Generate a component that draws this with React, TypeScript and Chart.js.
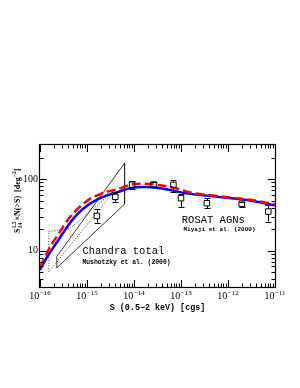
import React, { useEffect, useRef } from 'react';
import { Chart, registerables } from 'chart.js';

Chart.register(...registerables);

// ---- data ----
const curveFlux = [1e-16, 1.51e-16, 2.47e-16, 4.03e-16, 6.56e-16, 1.07e-15, 1.75e-15, 2.84e-15, 4.27e-15, 8.34e-15, 1.6e-14, 3.61e-14, 8.18e-14, 1.57e-13, 6.79e-13, 2.94e-12, 1e-11];
const modelBlue = [5.4, 8.7, 14.1, 22.9, 33.4, 43.7, 53, 60.3, 65, 74.8, 77.3, 74.8, 67.1, 62.2, 56, 50.2, 43];
const modelRed = [5.85, 10.2, 17.1, 27.7, 39.2, 51.3, 60.3, 67.5, 71.5, 83.2, 86.5, 82, 74, 65, 57.5, 51.3, 44.5];

const pointFlux = [1.62e-15, 4.0e-15, 9.1e-15, 2.6e-14, 6.9e-14, 1.0e-13, 3.55e-13, 1.96e-12, 7.2e-12];
const pointValue = [30.6, 56.5, 83.2, 84, 83, 54.2, 46.1, 45.1, 35.2];
const pointErrLow = [24.6, 47.4, 73, 77.3, 67, 40.5, 39.3, 41.4, 25.5];
const pointErrHigh = [38.4, 65.4, 93.5, 92.5, 96, 62, 54.2, 48.6, 43.6];

const bowtieFlux = [2.28e-16, 6.3e-15, 6.3e-15, 2.28e-16, 2.28e-16];
const bowtieValue = [8.3, 167, 44.7, 5.75, 8.3];
const fluctFlux = [1.54e-16, 4.45e-16, 4.0e-15, 1.54e-16, 1.54e-16];
const fluctValue = [18.5, 20.7, 70.8, 5.06, 18.5];

const xRange = [1e-16, 1e-11];
const yRange = [3.1, 300];
const xTickValues = [1e-16, 1e-15, 1e-14, 1e-13, 1e-12, 1e-11];
const xTickBase = '10';
const xTickExponents = ['\u221216', '\u221215', '\u221214', '\u221213', '\u221212', '\u221211'];
const yTickValues = [10, 100];
const yTickLabels = ['10', '100'];

const toXY = (xs: number[], ys: number[]) => xs.map((x, i) => ({ x, y: ys[i] }));

const overlayPlugin = {
  id: 'overlay',
  afterDatasetsDraw(chart: any) {
    const { ctx, chartArea: a, scales } = chart;
    const xs = scales.x;
    const ys = scales.y;
    ctx.save();
    ctx.strokeStyle = '#000';
    ctx.fillStyle = '#000';

    // error bars
    ctx.lineWidth = 1;
    pointFlux.forEach((f: number, i: number) => {
      const px = Math.round(xs.getPixelForValue(f)) + 0.5;
      const py = ys.getPixelForValue(pointValue[i]);
      const hi = ys.getPixelForValue(pointErrHigh[i]);
      const lo = ys.getPixelForValue(pointErrLow[i]);
      const h = 2.8;
      ctx.beginPath();
      if (hi < py - h) { ctx.moveTo(px, hi); ctx.lineTo(px, py - h); }
      if (lo > py + h) { ctx.moveTo(px, py + h); ctx.lineTo(px, lo); }
      ctx.moveTo(px - 3, Math.round(hi) + 0.5); ctx.lineTo(px + 3, Math.round(hi) + 0.5);
      ctx.moveTo(px - 3, Math.round(lo) + 0.5); ctx.lineTo(px + 3, Math.round(lo) + 0.5);
      ctx.stroke();
    });

    // frame
    ctx.lineWidth = 1.2;
    ctx.strokeRect(a.left - 0.5, a.top - 0.5, a.right - a.left + 1, a.bottom - a.top + 1);

    // inward ticks
    ctx.lineWidth = 1;
    ctx.beginPath();
    const xMinE = Math.round(Math.log10(xRange[0]));
    const xMaxE = Math.round(Math.log10(xRange[1]));
    for (let e = xMinE; e <= xMaxE; e++) {
      for (let m = 1; m <= 9; m++) {
        const v = m * Math.pow(10, e);
        if (v > xRange[1] * 1.0001) break;
        const px = Math.round(xs.getPixelForValue(v)) + 0.5;
        const len = m === 1 ? 7 : 3.5;
        ctx.moveTo(px, a.bottom); ctx.lineTo(px, a.bottom - len);
        ctx.moveTo(px, a.top); ctx.lineTo(px, a.top + len);
      }
    }
    for (let e = 0; e <= 2; e++) {
      for (let m = 1; m <= 9; m++) {
        const v = m * Math.pow(10, e);
        if (v < yRange[0] || v >= yRange[1]) continue;
        const py = Math.round(ys.getPixelForValue(v)) + 0.5;
        const len = m === 1 ? 7 : 3.5;
        ctx.moveTo(a.left, py); ctx.lineTo(a.left + len, py);
        ctx.moveTo(a.right, py); ctx.lineTo(a.right - len, py);
      }
    }
    ctx.stroke();

    // x tick labels with raised exponents
    ctx.textBaseline = 'alphabetic';
    ctx.textAlign = 'left';
    const baseFont = '10px "Liberation Serif"';
    const expFont = '7px "Liberation Serif"';
    xTickValues.forEach((v: number, i: number) => {
      const px = xs.getPixelForValue(v);
      ctx.font = baseFont;
      const wb = ctx.measureText(xTickBase).width;
      ctx.font = expFont;
      const we = ctx.measureText(xTickExponents[i]).width;
      const start = px - (wb + we + 0.5) / 2;
      ctx.font = baseFont;
      ctx.fillText(xTickBase, start, a.bottom + 11.5);
      ctx.font = expFont;
      ctx.fillText(xTickExponents[i], start + wb + 0.5, a.bottom + 7.5);
    });

    // annotations
    ctx.textBaseline = 'middle';
    ctx.textAlign = 'left';
    ctx.font = '10.5px "Liberation Mono"';
    ctx.fillText('Chandra total', xs.getPixelForValue(7.98e-16), ys.getPixelForValue(9.7));
    ctx.fillText('ROSAT AGNs', xs.getPixelForValue(1.04e-13), ys.getPixelForValue(26.7));
    ctx.font = 'bold 6.4px "Liberation Mono"';
    ctx.fillText('Mushotzky et al. (2000)', xs.getPixelForValue(7.98e-16), ys.getPixelForValue(6.9));
    ctx.font = 'bold 6px "Liberation Mono"';
    ctx.fillText('Miyaji et al. (2000)', xs.getPixelForValue(1.13e-13), ys.getPixelForValue(19.7));

    // x title
    ctx.textAlign = 'center';
    ctx.font = 'bold 8.4px "Liberation Mono"';
    ctx.fillText('S (0.5\u22122 keV) [cgs]', (a.left + a.right) / 2, a.bottom + 20.5);

    // y title (rotated)
    ctx.translate(a.left - 20.5, a.bottom - 54);
    ctx.rotate(-Math.PI / 2);
    ctx.textAlign = 'left';
    ctx.textBaseline = 'alphabetic';
    const main = 'bold 8px "Liberation Serif"';
    const small = 'bold 5.5px "Liberation Serif"';
    let cx = 0;
    ctx.font = main;
    ctx.fillText('S', cx, 0);
    cx += ctx.measureText('S').width + 0.3;
    ctx.font = small;
    ctx.fillText('1.5', cx, -3.8);
    ctx.fillText('14', cx, 2);
    cx += Math.max(ctx.measureText('1.5').width, ctx.measureText('14').width) + 0.8;
    ctx.font = main;
    const mid = '\u00D7N(>S)  [deg';
    ctx.fillText(mid, cx, 0);
    cx += ctx.measureText(mid).width;
    ctx.font = small;
    ctx.fillText('\u22122', cx, -3.8);
    cx += ctx.measureText('\u22122').width;
    ctx.font = main;
    ctx.fillText(']', cx, 0);

    ctx.restore();
  },
};

export default function App() {
  const canvasRef = useRef<HTMLCanvasElement | null>(null);

  useEffect(() => {
    const canvas = canvasRef.current;
    if (!canvas) return;
    const chart = new Chart(canvas, {
      type: 'line',
      data: {
        datasets: [
          {
            label: 'points',
            data: toXY(pointFlux, pointValue),
            showLine: false,
            pointStyle: 'rect',
            pointRadius: 3.9,
            borderColor: '#000',
            backgroundColor: 'rgba(0,0,0,0)',
            pointBorderWidth: 1,
            order: -1,
          } as any,
          {
            label: 'red',
            data: toXY(curveFlux, modelRed),
            borderColor: '#ff0000',
            borderWidth: 2.5,
            borderDash: [9, 4],
            pointRadius: 0,
            cubicInterpolationMode: 'monotone',
            fill: false,
            order: 0,
          },
          {
            label: 'blue',
            data: toXY(curveFlux, modelBlue),
            borderColor: '#0000ff',
            borderWidth: 2.5,
            pointRadius: 0,
            cubicInterpolationMode: 'monotone',
            fill: false,
            order: 1,
          },
          {
            label: 'bowtie',
            data: toXY(bowtieFlux, bowtieValue),
            borderColor: '#222',
            borderWidth: 0.9,
            pointRadius: 0,
            tension: 0,
            fill: false,
            order: 2,
          },
          {
            label: 'fluct',
            data: toXY(fluctFlux, fluctValue),
            borderColor: '#444',
            borderWidth: 0.9,
            borderDash: [1.2, 1.5],
            pointRadius: 0,
            tension: 0,
            fill: false,
            order: 3,
          },
        ],
      },
      options: {
        animation: false,
        responsive: false,
        events: [],
        layout: { padding: { top: 145, right: 25, left: 0, bottom: 0 } },
        plugins: { legend: { display: false }, tooltip: { enabled: false } },
        scales: {
          x: {
            type: 'logarithmic',
            min: xRange[0],
            max: xRange[1],
            grid: { display: false, drawTicks: false },
            border: { display: false },
            afterBuildTicks: (s: any) => { s.ticks = xTickValues.map((v) => ({ value: v })); },
            afterFit: (s: any) => { s.height = 101; },
            ticks: { display: false },
          },
          y: {
            type: 'logarithmic',
            min: yRange[0],
            max: yRange[1],
            grid: { display: false, drawTicks: false },
            border: { display: false },
            afterBuildTicks: (s: any) => { s.ticks = yTickValues.map((v) => ({ value: v })); },
            afterFit: (s: any) => { s.width = 40; },
            ticks: {
              autoSkip: false,
              padding: 2,
              color: '#000',
              font: { family: '"Liberation Serif"', size: 10 },
              callback: (_v: any, i: number) => yTickLabels[i],
            },
          },
        },
      },
      plugins: [overlayPlugin],
    } as any);
    return () => chart.destroy();
  }, []);

  return (
    <div style={{ position: 'absolute', left: 0, top: 0, width: 300, height: 388 }}>
      <canvas ref={canvasRef} width={300} height={388} style={{ display: 'block' }} />
    </div>
  );
}
